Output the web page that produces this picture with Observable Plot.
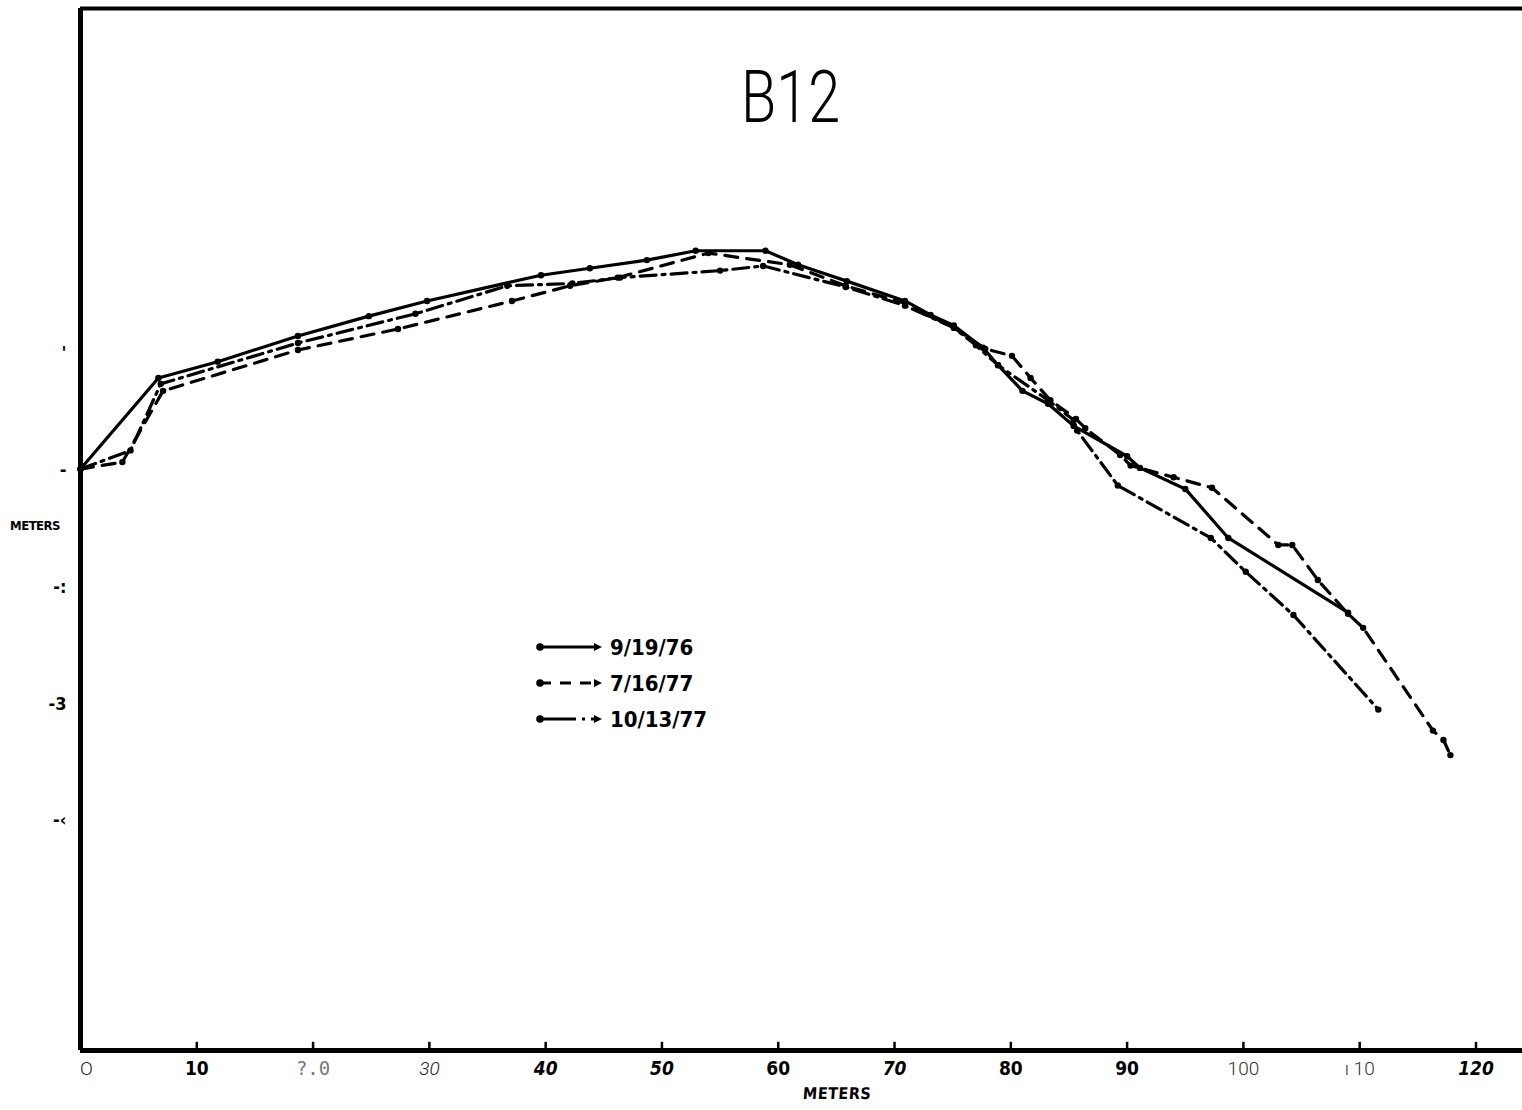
<!DOCTYPE html>
<html><head><meta charset="utf-8">
<script src="https://cdn.jsdelivr.net/npm/d3@7"></script>
<script src="https://cdn.jsdelivr.net/npm/@observablehq/plot@0.6"></script>
<style>
body{margin:0;background:#fff;}
#wrap{position:relative;width:1522px;height:1110px;overflow:hidden;}
.hand{font-family:"DejaVu Sans Condensed","DejaVu Sans",sans-serif;font-weight:bold;}
.ov{position:absolute;white-space:nowrap;color:#000;}
</style></head><body><div id="wrap"></div>
<script>
// ---- data (meters) ----
const chartTitle = "B12";
const seriesNames = ["9/19/76", "7/16/77", "10/13/77"];

const s1x = [0, 6.7, 11.8, 18.7, 24.8, 29.8, 39.6, 43.8, 48.7, 52.9, 58.9, 61.7, 65.9, 70.9, 73.1, 75.1, 77.6, 78.9, 81.0, 83.2, 85.4, 90.0, 91.1, 95.0, 98.7, 109.0];
const s1y = [-0.99, -0.21, -0.07, 0.15, 0.32, 0.45, 0.67, 0.73, 0.80, 0.88, 0.88, 0.76, 0.62, 0.45, 0.33, 0.24, 0.05, -0.10, -0.32, -0.43, -0.62, -0.88, -0.98, -1.16, -1.58, -2.22];

const s2x = [0, 3.6, 7.1, 18.7, 27.3, 37.1, 42.1, 46.2, 54.0, 61.0, 65.8, 70.9, 75.1, 77.8, 80.1, 81.7, 83.4, 85.6, 86.4, 89.4, 90.3, 94.0, 97.3, 103.0, 104.2, 106.4, 109.0, 110.3, 116.3, 117.2, 117.8];
const s2y = [-0.99, -0.93, -0.32, 0.03, 0.21, 0.45, 0.58, 0.65, 0.86, 0.76, 0.58, 0.43, 0.22, 0.04, -0.02, -0.21, -0.40, -0.56, -0.64, -0.87, -0.96, -1.06, -1.15, -1.64, -1.64, -1.94, -2.23, -2.35, -3.23, -3.31, -3.44];

const s3x = [0, 4.3, 6.9, 18.7, 28.8, 36.7, 42.3, 46.4, 55.0, 58.7, 65.8, 70.9, 75.1, 77.0, 78.9, 83.2, 85.4, 85.7, 89.2, 97.2, 100.2, 104.3, 111.6];
const s3y = [-0.99, -0.83, -0.26, 0.09, 0.34, 0.58, 0.60, 0.65, 0.71, 0.75, 0.57, 0.41, 0.22, 0.07, -0.10, -0.40, -0.57, -0.66, -1.13, -1.58, -1.87, -2.24, -3.05];

const xTicks = [0, 10, 20, 30, 40, 50, 60, 70, 80, 90, 100, 110, 120];
const xTickLabels = ["O", "10", "?.0", "30", "40", "50", "60", "70", "80", "90", "100", "ı 10", "120"];
const yTicks = [0, -1, -2, -3, -4];
const yTickLabels = ["'", "-", "-:", "-3", "-‹"];
const xAxisLabel = "METERS";
const yAxisLabel = "METERS";

// ---- build tables ----
const xsAll = [s1x, s2x, s3x], ysAll = [s1y, s2y, s3y];
const series = seriesNames.map((name, k) => xsAll[k].map((x, i) => ({series: name, x, y: ysAll[k][i]})));
const allPts = series.flat();

const X0 = 0, X1 = 124, Y0 = -5.97, Y1 = 2.955;
const dashes = [null, "13,9", "16,6,3,6"];
const HAND = "DejaVu Sans Condensed, DejaVu Sans, sans-serif";
const THIN = "Roboto, Inter, DejaVu Sans, sans-serif";

const marks = [
  Plot.ruleX([X0], {stroke: "black", strokeWidth: 5}),
  Plot.ruleY([Y0], {stroke: "black", strokeWidth: 5}),
  Plot.ruleY([Y1], {stroke: "black", strokeWidth: 4}),
  Plot.ruleX(xTicks.filter(d => d > 0), {y1: Y0, y2: Y0 + 0.07, stroke: "black", strokeWidth: 2.5}),
  ...series.map((data, k) => Plot.line(data, {x: "x", y: "y", stroke: "black", strokeWidth: 3.2, strokeDasharray: dashes[k], strokeLinejoin: "round"})),
  Plot.dot(allPts, {x: "x", y: "y", r: 3.2, fill: "black", stroke: "none"}),
  Plot.axisX(xTicks, {anchor: "bottom", tickSize: 0, tickPadding: 11, fontSize: 19, label: null,
    tickFormat: d => xTickLabels[xTicks.indexOf(d)]}),
  Plot.axisY(yTicks, {anchor: "left", tickSize: 0, tickPadding: 14, fontSize: 18, label: null,
    tickFormat: d => yTickLabels[yTicks.indexOf(d)]})
];

const chart = Plot.plot({
  width: 1522, height: 1110,
  marginLeft: 80, marginRight: 0, marginTop: 8, marginBottom: 60,
  x: {domain: [X0, X1], label: null},
  y: {domain: [Y0, Y1], label: null},
  style: {background: "white", color: "black", overflow: "visible"},
  marks
});
const wrap = document.getElementById("wrap");
wrap.appendChild(chart);

// per-label type styling of x tick labels (mimics the mixed lettering)
const B = {w: "bold", s: "normal", f: HAND, c: "#000", dx: 0};
const BI = {w: "bold", s: "italic", f: HAND, c: "#000", dx: 0};
const L = {w: "300", s: "normal", f: THIN, c: "#333", dx: 0};
const xStyles = [
  {w: "300", s: "normal", f: THIN, c: "#222", dx: 6},
  B,
  {w: "normal", s: "normal", f: "DejaVu Sans Mono, monospace", c: "#777", dx: 0},
  {w: "300", s: "italic", f: THIN, c: "#222", dx: 0},
  BI, BI, B, BI, B, B, L, L, BI
];
d3.select(chart).selectAll('g[aria-label="x-axis tick label"] text').each(function(d, i) {
  const st = xStyles[i] || B;
  d3.select(this).attr("font-weight", st.w).attr("font-style", st.s)
    .attr("font-family", st.f).attr("fill", st.c).attr("dx", st.dx);
});
d3.select(chart).selectAll('g[aria-label="y-axis tick label"] text')
  .attr("font-weight", "bold").attr("font-family", HAND);

// ---- overlays: title, axis labels, legend ----
function ov(text, left, top, css, cls) {
  const d = document.createElement("div");
  d.className = "ov " + (cls || "");
  d.textContent = text;
  d.style.left = left + "px"; d.style.top = top + "px";
  Object.assign(d.style, css || {});
  wrap.appendChild(d);
  return d;
}
ov(chartTitle, 741, 56, {fontFamily: THIN, fontSize: "72px", fontWeight: "300", lineHeight: "84px", transform: "scaleX(0.8)", transformOrigin: "left top"});
ov(xAxisLabel, 803, 1084, {fontSize: "16px", letterSpacing: "0.5px", transform: "skewX(-4deg)"}, "hand");
ov(yAxisLabel, 10, 518, {fontSize: "13px", letterSpacing: "-0.5px"}, "hand");

const leg = d3.select(wrap).append("svg")
  .attr("width", 240).attr("height", 110)
  .style("position", "absolute").style("left", "530px").style("top", "628px");
const legDash = [null, "11,9", "36,6,3,6"];
seriesNames.forEach((name, k) => {
  const y = 19 + k * 36;
  const g = leg.append("g");
  g.append("line").attr("x1", 10).attr("x2", 66).attr("y1", y).attr("y2", y)
    .attr("stroke", "black").attr("stroke-width", 3.2).attr("stroke-dasharray", legDash[k]);
  g.append("circle").attr("cx", 10).attr("cy", y).attr("r", 3.8).attr("fill", "black");
  g.append("path").attr("d", `M64,${y - 4} L72,${y} L64,${y + 4} Z`).attr("fill", "black");
  g.append("text").attr("x", 80).attr("y", y + 8).text(name)
    .attr("font-family", HAND).attr("font-weight", "bold").attr("font-size", 22);
});
</script></body></html>
